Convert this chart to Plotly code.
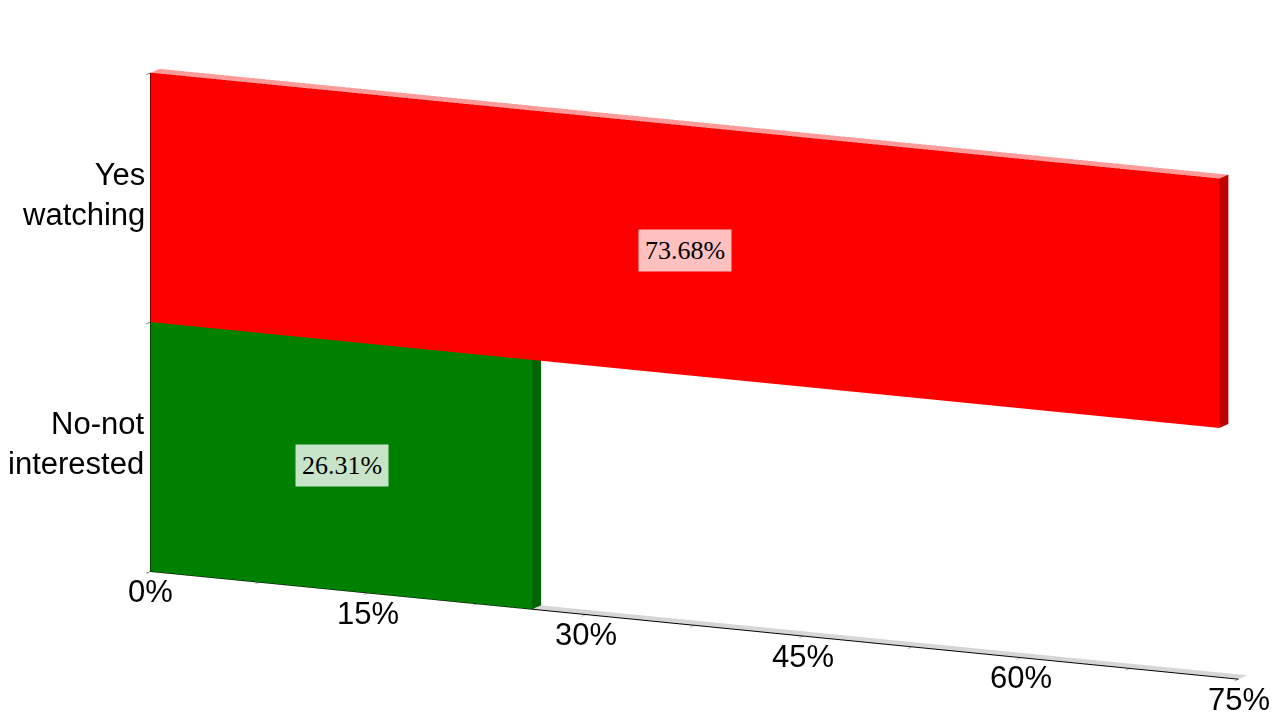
import plotly.graph_objects as go
import numpy as np

# ---- data ----
categories = ["No-not<br>interested", "Yes<br>watching"]
values = [26.31, 73.68]
value_labels = ["26.31%", "73.68%"]
front_colors = ["#008000", "#FF0000"]
side_colors = ["#006400", "#C00000"]
top_colors = ["#86B086", "#FF9A9A"]
label_bg = ["rgba(200,228,200,1)", "rgba(255,192,192,1)"]
x_tickvals = [0, 7.5, 15, 22.5, 30, 37.5, 45, 52.5, 60, 67.5, 75]
x_labelvals = [0, 15, 30, 45, 60, 75]
x_labeltext = ["0%", "15%", "30%", "45%", "60%", "75%"]


def box(x0, x1, y0, y1, z0, z1, cfront, cside, ctop):
    xs = [x0, x1, x1, x0, x0, x1, x1, x0]
    ys = [y0, y0, y1, y1, y0, y0, y1, y1]
    zs = [z0, z0, z0, z0, z1, z1, z1, z1]
    tri = [
        (0, 1, 5, cfront), (0, 5, 4, cfront),
        (3, 2, 6, cside), (3, 6, 7, cside),
        (0, 3, 7, cside), (0, 7, 4, cside),
        (1, 2, 6, cside), (1, 6, 5, cside),
        (0, 1, 2, ctop), (0, 2, 3, ctop),
        (4, 5, 6, ctop), (4, 6, 7, ctop),
    ]
    return (xs, ys, zs, [t[0] for t in tri], [t[1] for t in tri],
            [t[2] for t in tri], [t[3] for t in tri])


flat_light = dict(ambient=1.0, diffuse=0.0, specular=0.0, roughness=1.0, fresnel=0.0)

fig = go.Figure()

# floor
fig.add_trace(go.Mesh3d(
    x=[0, 75, 75, 0], y=[0, 0, 1, 1], z=[0, 0, 0, 0],
    i=[0, 0], j=[1, 2], k=[2, 3],
    facecolor=["#D6D6D6", "#D6D6D6"], flatshading=True,
    lighting=flat_light, hoverinfo="skip", showscale=False,
))

for idx, v in enumerate(values):
    xs, ys, zs, i, j, k, fc = box(0, v, 0, 1, idx, idx + 1,
                                  front_colors[idx], side_colors[idx], top_colors[idx])
    fig.add_trace(go.Mesh3d(
        x=xs, y=ys, z=zs, i=i, j=j, k=k, facecolor=fc,
        flatshading=True, lighting=flat_light, hoverinfo="skip", showscale=False,
    ))

annotations = []
for idx, v in enumerate(values):
    annotations.append(dict(
        x=v / 2, y=0, z=idx + 0.5, text=value_labels[idx], showarrow=False,
        bgcolor=label_bg[idx], font=dict(family="Liberation Serif", size=26, color="black"),
        borderpad=6,
    ))
    annotations.append(dict(
        x=0, y=0, z=idx + 0.5, text=categories[idx], showarrow=False,
        xanchor="right", align="right", xshift=-4, yshift=3,
        font=dict(family="Liberation Sans", size=31, color="black"),
    ))
for xv, xt in zip(x_labelvals, x_labeltext):
    annotations.append(dict(
        x=xv, y=0, z=0, text=xt, showarrow=False, yshift=-20,
        font=dict(family="Liberation Sans", size=31, color="black"),
    ))

d = np.array([0.419, -0.884, 0.209])
t = 2.0
eye = d * t
S = 1.74

axis_common = dict(showgrid=False, showbackground=False, zeroline=False,
                   showspikes=False, title=dict(text=""), showticklabels=False)

fig.update_layout(
    width=1280, height=720,
    margin=dict(l=0, r=0, t=0, b=0),
    paper_bgcolor="white",
    showlegend=False,
    scene=dict(
        domain=dict(x=[0.087, 0.993], y=[0.011, 0.972]),
        xaxis=dict(range=[0, 75], tickvals=x_tickvals,
                   showline=True, linecolor="black", linewidth=2, ticks="outside",
                   tickcolor="black", ticklen=4, **axis_common),
        yaxis=dict(range=[0, 1], showline=False, ticks="", **axis_common),
        zaxis=dict(range=[0, 2], tickvals=[0, 1, 2],
                   showline=True, linecolor="black", linewidth=2, ticks="outside",
                   tickcolor="black", ticklen=4, **axis_common),
        aspectmode="manual",
        aspectratio=dict(x=2.0 * S, y=0.0348 * S, z=0.847 * S),
        camera=dict(eye=dict(x=eye[0], y=eye[1], z=eye[2]),
                    up=dict(x=0, y=0, z=1), center=dict(x=0, y=0, z=0),
                    projection=dict(type="orthographic")),
        annotations=annotations,
        dragmode=False,
    ),
)

fig.write_html("out.html")
